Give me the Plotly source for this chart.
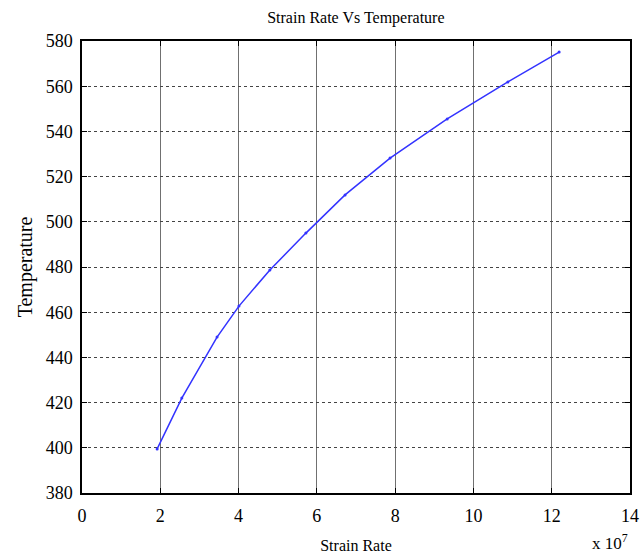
import plotly.graph_objects as go

# Data (strain rate in units of 1e7)
strain_rate = [1.92, 2.55, 3.45, 4.01, 4.80, 5.72, 6.72, 7.87, 9.33, 10.88, 12.19]
temperature = [399.5, 422.0, 449.0, 462.7, 478.7, 495.0, 511.9, 528.2, 545.5, 561.9, 575.1]

x_ticks = [0, 2, 4, 6, 8, 10, 12, 14]
y_ticks = [380, 400, 420, 440, 460, 480, 500, 520, 540, 560, 580]

FONT = "Liberation Serif, Times New Roman, serif"

fig = go.Figure()
fig.add_trace(go.Scatter(
    x=strain_rate, y=temperature, mode="lines+markers",
    line=dict(color="#3333ff", width=1.5),
    marker=dict(size=3, color="#3333ff"),
    showlegend=False,
))

axis_common = dict(
    showline=True, linecolor="black", linewidth=1.5, mirror="allticks",
    ticks="inside", ticklen=5, tickcolor="black", tickwidth=1,
    zeroline=False, automargin=False,
    tickfont=dict(family=FONT, size=18, color="black"),
)

fig.update_xaxes(
    range=[0, 14], tickvals=x_ticks, ticktext=[str(v) for v in x_ticks],
    showgrid=True, gridcolor="#707070", gridwidth=1, griddash="solid",
    ticklabelstandoff=6,
    title=dict(text="Strain Rate", font=dict(family=FONT, size=16, color="black"), standoff=14),
    **axis_common,
)
fig.update_yaxes(
    range=[380, 580], tickvals=y_ticks, ticktext=[str(v) for v in y_ticks],
    showgrid=True, gridcolor="#444444", gridwidth=1, griddash="dot",
    ticklabelstandoff=4,
    title=dict(text="Temperature", font=dict(family=FONT, size=20, color="black"), standoff=8),
    **axis_common,
)

fig.add_annotation(
    text="x 10<sup>7</sup>", xref="paper", yref="paper", x=1.0, y=-0.108,
    xanchor="right", yanchor="middle", showarrow=False,
    font=dict(family=FONT, size=17, color="black"),
)

fig.update_layout(
    width=640, height=557,
    margin=dict(l=82, r=10, t=41, b=64),
    paper_bgcolor="white", plot_bgcolor="white",
    title=dict(text="Strain Rate Vs Temperature", x=0.556, xanchor="center", y=0.968, yanchor="middle",
               font=dict(family=FONT, size=16, color="black")),
)

fig.write_html("out.html")
